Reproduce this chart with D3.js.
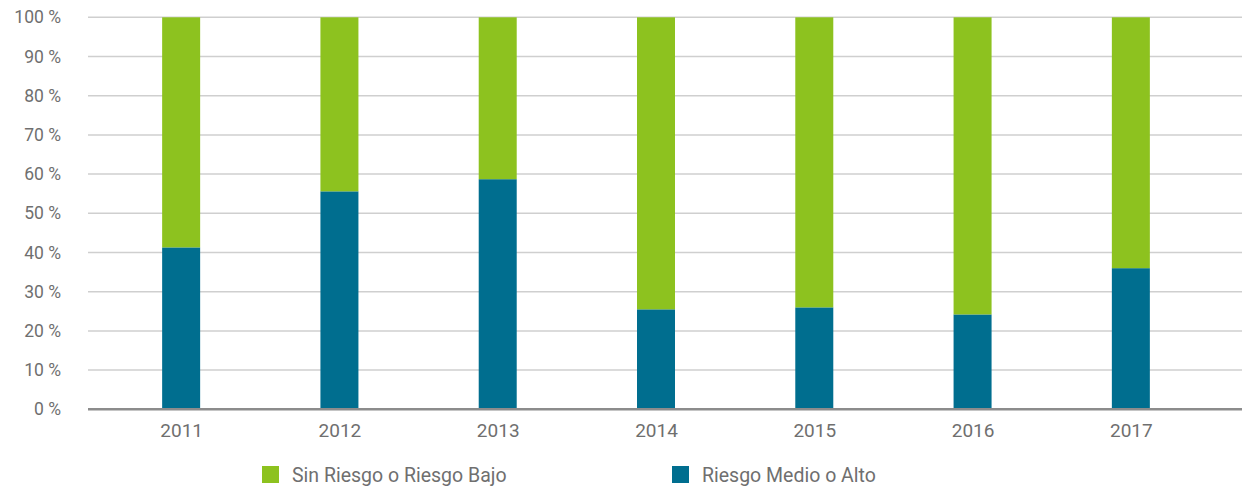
<!DOCTYPE html>
<html>
<head>
<meta charset="utf-8">
<script src="https://cdn.jsdelivr.net/npm/d3@7"></script>
<style>
  html, body { margin: 0; padding: 0; background: #fff; }
  svg { display: block; font-family: "Roboto", "DejaVu Sans", sans-serif; }
</style>
</head>
<body>
<svg id="chart" width="1242" height="491"></svg>
<script>
// Share of cases by risk level, per year (percent)
const years = ["2011", "2012", "2013", "2014", "2015", "2016", "2017"];
const riesgoMedioAlto = [41.3, 55.6, 58.7, 25.5, 26.0, 24.2, 36.0];
const sinRiesgoBajo = riesgoMedioAlto.map(v => 100 - v);
const yTicks = [0, 10, 20, 30, 40, 50, 60, 70, 80, 90, 100];
const seriesNames = ["Sin Riesgo o Riesgo Bajo", "Riesgo Medio o Alto"];
const seriesColors = ["#8dc21f", "#006e8f"];

const svg = d3.select("#chart");
const plotLeft = 88, plotRight = 1242, plotTop = 17.3, plotBottom = 409.3;

const x = d3.scalePoint().domain(years).range([102, 1210]).padding(0.5);
const y = d3.scaleLinear().domain([0, 100]).range([plotBottom, plotTop]);
const barW = 38;

// gridlines
svg.append("g").selectAll("line")
  .data(yTicks.filter(t => t > 0))
  .join("line")
  .attr("x1", plotLeft).attr("x2", plotRight)
  .attr("y1", d => y(d)).attr("y2", d => y(d))
  .attr("stroke", "#cfcfcf").attr("stroke-width", 1.5);

// y axis labels
const yAxis = d3.axisLeft(y).tickValues(yTicks).tickSize(0).tickPadding(0)
  .tickFormat(d => d + " %");
svg.append("g")
  .attr("transform", "translate(61,0)")
  .call(yAxis)
  .call(g => g.select(".domain").remove())
  .call(g => g.selectAll("text")
    .attr("fill", "#6f6f6f").attr("font-size", 17.5)
    .attr("font-family", "Roboto, sans-serif"));

// stacked bars
const stack = years.map((yr, i) => ({ year: yr, low: riesgoMedioAlto[i], high: sinRiesgoBajo[i] }));
const bars = svg.append("g");
bars.selectAll("rect.alto")
  .data(stack).join("rect")
  .attr("class", "alto")
  .attr("x", d => x(d.year) - barW / 2)
  .attr("width", barW)
  .attr("y", d => y(d.low))
  .attr("height", d => y(0) - y(d.low))
  .attr("fill", seriesColors[1]);
bars.selectAll("rect.bajo")
  .data(stack).join("rect")
  .attr("class", "bajo")
  .attr("x", d => x(d.year) - barW / 2)
  .attr("width", barW)
  .attr("y", d => y(d.low + d.high))
  .attr("height", d => y(d.low) - y(d.low + d.high))
  .attr("fill", seriesColors[0]);

// baseline
svg.append("line")
  .attr("x1", plotLeft).attr("x2", plotRight)
  .attr("y1", y(0)).attr("y2", y(0))
  .attr("stroke", "#8c8c8c").attr("stroke-width", 2.5);

// x axis labels
const xAxis = d3.axisBottom(x).tickSize(0).tickPadding(0);
svg.append("g")
  .attr("transform", `translate(0,${y(0) + 14})`)
  .call(xAxis)
  .call(g => g.select(".domain").remove())
  .call(g => g.selectAll("text")
    .attr("fill", "#6f6f6f").attr("font-size", 19)
    .attr("font-family", "Roboto, sans-serif"));

// legend
const legendX = [262, 672];
const legend = svg.append("g");
seriesNames.forEach((name, i) => {
  const g = legend.append("g").attr("transform", `translate(${legendX[i]},466)`);
  g.append("rect").attr("width", 17).attr("height", 17).attr("fill", seriesColors[i]);
  g.append("text").attr("x", 30).attr("y", 16)
    .attr("fill", "#6f6f6f").attr("font-size", 19.5)
    .text(name);
});
</script>
</body>
</html>
